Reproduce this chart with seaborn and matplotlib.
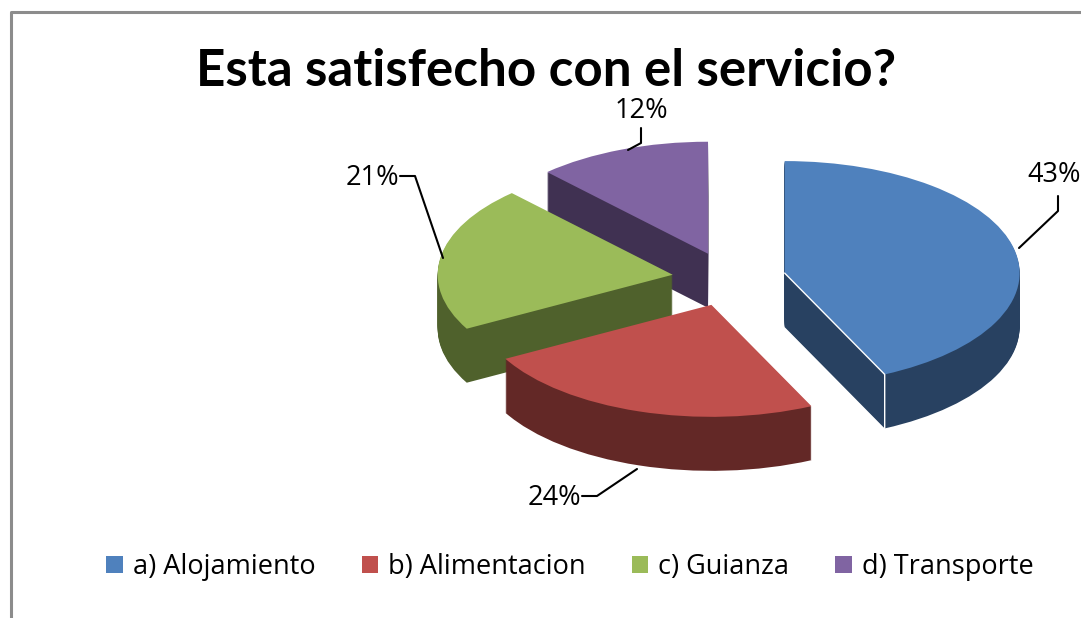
import numpy as np
import matplotlib
matplotlib.use("Agg")
import matplotlib.pyplot as plt
import seaborn as sns
from matplotlib.patches import Patch

title = "Esta satisfecho con el servicio?"
categories = ["a) Alojamiento", "b) Alimentacion", "c) Guianza", "d) Transporte"]
values = [43, 24, 21, 12]
labels = ["43%", "24%", "21%", "12%"]
top_colors = sns.color_palette(["#4F81BD", "#C0504D", "#9BBB59", "#8064A2"])
side_colors = sns.color_palette(["#284161", "#632826", "#4F612C", "#403152"])
draw_rank = [3, 4, 2, 1]  # back-to-front stacking of the slices

sns.set_theme(style="white")
plt.rcParams["font.family"] = ["Open Sans", "DejaVu Sans"]

fig = plt.figure(figsize=(10.81, 6.18), dpi=100)
ax = fig.add_axes([0, 0, 1, 1])

explode_amt = 0.2426
explode = [explode_amt] * len(values)
depth_px = 54
for step in range(depth_px, -1, -1):
    depth = step / 112
    colors = top_colors if step == 0 else side_colors
    wedges, _ = ax.pie(values, colors=colors, explode=explode, startangle=90,
                       counterclock=False, radius=1, center=(0, -depth),
                       wedgeprops={"linewidth": 0})
    for w, r in zip(wedges, draw_rank):
        w.set_zorder(r * 1000 - step)

# thin white highlight on the front edge of the first slice
end = np.deg2rad(values[0] / sum(values) * 360)
mid = end / 2
cx, cy = explode_amt * np.sin(mid), explode_amt * np.cos(mid)
rx, ry = cx + np.sin(end), cy + np.cos(end)
ax.plot([cx, rx, rx], [cy, ry, ry - depth_px / 112], color="white", lw=1.0, zorder=3500)

# stretch the circular pie into the tilted ellipse
ax.set_aspect("auto")
ax.set_xlim((0 - 729) / 235, (1081 - 729) / 235)
ax.set_ylim((279 - 618) / 112, (279 - 0) / 112)
ax.axis("off")

# overlay in figure pixels for frame, labels and leaders
ov = fig.add_axes([0, 0, 1, 1], facecolor="none")
ov.set_xlim(0, 1081)
ov.set_ylim(618, 0)
ov.axis("off")
ov.plot([11, 11, 1081], [618, 12, 12], color="#8C8C8C", lw=2.2, clip_on=False)

ov.text(546, 86, title, ha="center", va="baseline", fontsize=36.8, fontweight="bold",
        family=["Lato", "DejaVu Sans"], color="black")

label_pos = [(1027, 175, "left"), (554, 498, "center"), (372, 178, "center"), (641, 111, "center")]
for (x, y, ha), s in zip(label_pos, labels):
    ov.text(x, y, s, ha=ha, va="center", fontsize=19.5, color="black")

leaders = [
    ([1019, 1058, 1058], [248, 211, 196]),
    ([582, 597, 637], [496, 496, 469]),
    ([400, 415, 443], [176, 176, 258]),
    ([628, 641, 641], [150, 143, 128]),
]
for xs, ys in leaders:
    ov.plot(xs, ys, color="black", lw=1.5)

handles = [Patch(facecolor=c, edgecolor="none") for c in top_colors]
ov.legend(handles, categories, loc="center", bbox_to_anchor=(570 / 1081, 1 - 567 / 618),
          ncol=4, frameon=False, fontsize=19.5, handlelength=0.6, handleheight=0.6,
          handletextpad=0.38, columnspacing=1.7, labelcolor="black")

fig.savefig("out.png", dpi=100, facecolor="white")
